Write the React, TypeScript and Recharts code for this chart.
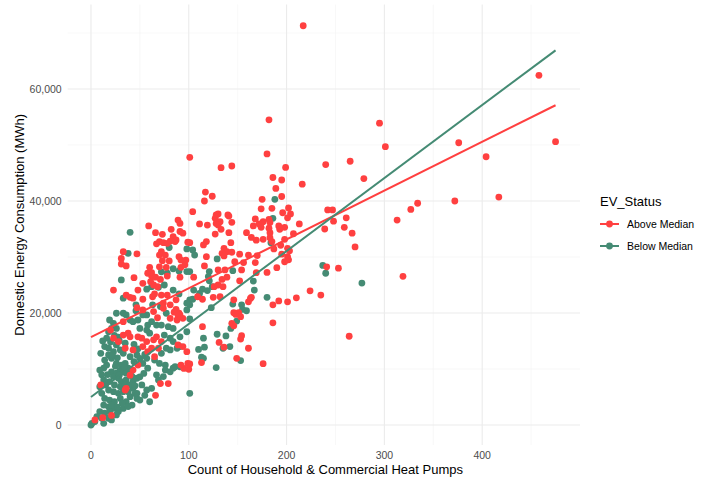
import { ScatterChart, Scatter, XAxis, YAxis, CartesianGrid, Legend } from 'recharts'

const FONT = '"Liberation Sans", Arial, Helvetica, sans-serif'
const RED = '#FF4040'
const GREEN = '#458B74'

const xTicks = [0, 100, 200, 300, 400]
const xMinor = [50, 150, 250, 350, 450]
const yTicks = [0, 20000, 40000, 60000]
const yMinor = [10000, 30000, 50000, 70000]

// [heat pumps, MWh]
const aboveMedian: [number, number][] = [
  [217, 71300], [458, 62450], [475, 50600], [404, 47900], [376, 50400], [417, 40700], [372, 40000],
  [334, 39600], [327, 38500], [313, 36600], [319, 26550], [295, 53900], [301, 49700], [279, 44000],
  [265, 47100], [240, 46500], [216, 43000], [264, 15850], [182, 54500], [180, 48400], [101, 47800],
  [133, 45950], [144, 46250], [199, 46000], [186, 44200], [195, 43750], [189, 42250], [117, 41600],
  [124, 40850], [195, 40800], [175, 40300], [116, 40000], [104, 38100], [174, 38600], [196, 37900],
  [202, 38750], [130, 37700], [128, 37500], [140, 37500], [89, 36600], [168, 36800], [182, 36700],
  [201, 37000], [242, 38400], [247, 38400], [261, 37000], [248, 36400], [183, 36150], [198, 35300],
  [213, 35900], [174, 35300], [239, 35000], [259, 35300], [267, 34250], [270, 31800], [207, 34150],
  [164, 33500], [169, 33000], [183, 33450], [194, 32100], [187, 31450], [201, 31550], [170, 30250],
  [168, 29000], [195, 30500], [198, 29150], [202, 29500], [190, 28100], [180, 27250], [241, 28250],
  [253, 28000], [224, 23950], [235, 23200], [210, 22700], [201, 22000], [192, 22150], [186, 21450],
  [164, 22800], [186, 18250], [176, 10950], [161, 13700],
  [127, 36900], [132, 36300], [128, 36000], [130, 35700], [141, 37300], [144, 36200], [111, 35900],
  [119, 35700], [133, 34950], [127, 34100], [141, 34350], [159, 34350], [143, 32550], [118, 32750],
  [115, 32150], [136, 31550], [139, 30950], [134, 30650], [136, 30200], [144, 30850], [101, 32550],
  [118, 30050], [152, 30500], [161, 30350], [147, 29150], [156, 29000], [116, 28400], [130, 27700],
  [137, 27700], [154, 27700], [169, 27200], [134, 26000], [139, 26400], [130, 25000], [135, 24700],
  [105, 26400], [126, 24700], [152, 25750], [109, 22900], [114, 22450], [125, 22800], [132, 22900],
  [146, 22350], [163, 22600], [161, 22000], [146, 20050], [151, 20050], [185, 38700], [204, 37700],
  [176, 36300], [166, 35550], [172, 35900], [182, 35150], [192, 35550], [193, 34950], [183, 34350],
  [176, 33150], [185, 32750], [198, 33150], [203, 31100], [201, 30050],
  [148, 19750], [153, 19350], [144, 18150], [146, 17700], [114, 17550], [154, 15950], [153, 15350],
  [131, 14750], [136, 13900], [149, 11900], [113, 11150], [101, 10900], [95, 10100], [100, 9950],
  [59, 35550], [91, 36000], [66, 34350], [73, 34050], [82, 34950], [84, 33650], [91, 34550],
  [94, 34250], [70, 32750], [67, 32350], [74, 32550], [78, 32450], [81, 32850], [87, 33050],
  [86, 32750], [99, 32650], [72, 30950], [70, 30350], [76, 30350], [33, 30950], [47, 30550],
  [31, 29750], [90, 30050], [92, 29450], [97, 29450], [80, 29300], [73, 29350], [70, 28250],
  [60, 28150], [58, 27100], [62, 26600], [61, 25600], [36, 28400], [77, 28150], [78, 26600],
  [92, 28150], [96, 28600], [91, 26400], [62, 27200], [66, 26400], [71, 26000], [64, 25000],
  [44, 26300], [53, 25300], [48, 24100], [23, 24100], [68, 24700], [72, 23200], [78, 23200],
  [36, 23200], [43, 22650], [40, 22800], [53, 22450], [65, 23400], [63, 22900], [87, 22350],
  [81, 21450], [74, 21750], [74, 20850], [53, 20550], [64, 20250], [87, 20650], [90, 19950],
  [31, 28750],
  [47, 20950], [33, 18450], [20, 16950], [68, 19150], [81, 19050], [88, 18750], [89, 19650],
  [85, 20150], [91, 19650], [94, 19050], [38, 16400], [33, 16050], [40, 15750], [48, 15750],
  [52, 15500], [57, 14900], [64, 15200], [67, 15750], [72, 14900], [23, 15500], [28, 14900],
  [35, 13700], [43, 13400], [53, 14000], [58, 13100], [62, 13700], [69, 13700], [94, 14000],
  [89, 14300], [98, 13100], [92, 10700], [99, 11000], [65, 12200], [71, 7400], [79, 7400],
  [66, 5300], [36, 6550], [35, 6250], [48, 10700], [43, 9800], [40, 8900], [4, 900], [12, 1300],
  [21, 1700], [10, 7150],
]

const belowMedian: [number, number][] = [
  [188, 40300], [186, 36900], [184, 32550], [166, 25700], [167, 24100], [237, 28500], [240, 27100],
  [277, 25350], [180, 22800], [104, 31250], [106, 30350], [129, 29650], [101, 27400], [121, 27400],
  [121, 25750], [145, 27550], [114, 24250], [119, 24000], [105, 24100], [101, 22350], [104, 22450],
  [123, 20950], [154, 21450], [155, 20650], [159, 20400], [145, 21600], [149, 18550], [143, 17250],
  [115, 15500], [129, 16200], [138, 15900], [135, 13700], [110, 13500], [116, 13900], [113, 12100],
  [115, 11900], [153, 11500], [128, 10250], [101, 5650], [120, 26500], [124, 24700], [111, 23500],
  [142, 14000],
  [69, 24600], [75, 25000], [33, 22650], [57, 19650], [84, 27900], [78, 27100], [72, 27350],
  [90, 27500], [98, 27400], [80, 31700], [98, 31450], [40, 34400], [38, 30650], [31, 25900],
  [57, 24250], [62, 24700], [84, 24100], [90, 23400], [101, 21450], [98, 21750], [63, 21450],
  [71, 21150], [46, 21450], [46, 20400], [26, 19950], [33, 19950], [36, 19650], [40, 18750],
  [43, 18450], [48, 18750], [23, 18150], [21, 17250], [26, 17250], [53, 19650], [62, 18450],
  [67, 17850], [77, 19950], [72, 17850], [79, 17550], [84, 17250], [98, 20550], [101, 18950],
  [98, 16650], [58, 17850], [57, 16950], [50, 17250], [60, 16400], [75, 16050], [81, 15500],
  [91, 15750], [84, 14900], [16, 15500], [14, 14000], [18, 13700], [26, 14300], [30, 13400],
  [23, 13100], [33, 12800], [40, 12200], [47, 12500], [50, 11900], [72, 12800], [77, 13700],
  [81, 13400], [88, 13700], [91, 14000], [86, 10400], [91, 10400], [65, 11600], [70, 11000],
  [76, 10700], [57, 11900], [53, 11000], [58, 10150], [50, 4450], [60, 4150], [43, 6550],
  [47, 5650], [40, 5050], [52, 7150], [57, 6250], [62, 6550], [69, 8050], [74, 8650], [67, 8950],
  [76, 9800], [81, 9500], [84, 10150], [19, 18750], [18, 16650],
  [21, 9500], [26, 9250], [30, 9800], [33, 9500], [23, 8650], [28, 8350], [31, 7750], [36, 8050],
  [19, 7750], [24, 7150], [30, 6850], [35, 7150], [18, 6250], [23, 5950], [28, 5650], [33, 5950],
  [14, 4750], [19, 4450], [24, 4150], [30, 4750], [13, 3550], [18, 3250], [23, 2950], [9, 2400],
  [14, 2100], [19, 2400], [6, 1500], [11, 1200], [4, 600], [1, 300],
  [13, 10150], [16, 10700], [14, 11600], [18, 12500], [21, 11900], [11, 8950], [13, 8050],
  [9, 6850], [15, 7150], [11, 5650], [26, 11000], [31, 10700], [35, 11000], [38, 10150],
  [36, 9250], [42, 8650], [43, 7750], [40, 7150], [47, 8350], [38, 5950], [47, 4750], [36, 4150],
  [42, 3550], [33, 2950], [28, 2400], [21, 3550], [26, 1800], [18, 1200], [21, 900],
  [0, 0], [13, 300],
  [10, 12800], [12, 15000], [20, 14800], [24, 16000], [28, 15700], [22, 12400], [27, 12000],
  [9, 9800], [17, 9000], [25, 10500], [29, 8900], [34, 10300], [44, 11300], [41, 9600],
  [45, 7000], [50, 8600], [54, 9200], [32, 3900], [27, 3200], [38, 3300], [45, 5600], [55, 5300],
  [29, 15000], [35, 14600], [44, 14400], [48, 13600], [55, 12600],
]

// linear fit lines, end points
const fitX = [0, 475]
const aboveFitY = [15700, 57100]
const belowFitY = [5000, 66900]

const toPoints = (rows: [number, number][]) => rows.map(([x, y]) => ({ x, y }))
const fitPoints = (ys: number[]) => fitX.map((x, i) => ({ x, y: ys[i] }))

const dot = (color: string) => (props: any) => (
  <circle cx={props.cx} cy={props.cy} r={3.4} fill={color} />
)
const noDot = () => <g />

const legendItems = [
  { name: 'Above Median', color: RED },
  { name: 'Below Median', color: GREEN },
]

function LegendBox() {
  return (
    <div style={{ position: 'relative', width: 107, height: 70, fontFamily: FONT, color: '#000' }}>
      <div style={{ position: 'absolute', left: 0, top: 0, fontSize: 13, lineHeight: '16px' }}>
        EV_Status
      </div>
      {legendItems.map((item, i) => (
        <div
          key={item.name}
          style={{
            position: 'absolute',
            left: 0,
            top: 22 + i * 22,
            height: 16,
            display: 'flex',
            alignItems: 'center',
          }}
        >
          <svg width={19} height={10} style={{ display: 'block' }}>
            <line x1={0} y1={5} x2={19} y2={5} stroke={item.color} strokeWidth={2} />
            <circle cx={9.5} cy={5} r={3.4} fill={item.color} />
          </svg>
          <span style={{ marginLeft: 8, fontSize: 10.5, lineHeight: '16px', whiteSpace: 'nowrap' }}>
            {item.name}
          </span>
        </div>
      ))}
    </div>
  )
}

export default function App() {
  const tickStyle = { fill: '#4D4D4D', fontSize: 10.5, fontFamily: FONT }
  return (
    <div style={{ position: 'absolute', left: 0, top: 0, background: '#fff' }}>
      <ScatterChart
        width={707}
        height={477}
        margin={{ top: 4.6, right: 127, bottom: 2, left: 7.7 }}
      >
        <CartesianGrid
          horizontalValues={yMinor}
          verticalValues={xMinor}
          stroke="#F3F3F3"
          strokeWidth={0.6}
        />
        <CartesianGrid
          horizontalValues={yTicks}
          verticalValues={xTicks}
          stroke="#EBEBEB"
          strokeWidth={1.1}
        />
        <XAxis
          type="number"
          dataKey="x"
          domain={[-23.8, 500]}
          ticks={xTicks}
          height={30}
          axisLine={false}
          tickLine={false}
          tickSize={4}
          tickMargin={2.7}
          tick={tickStyle}
          label={{
            value: 'Count of Household & Commercial Heat Pumps',
            position: 'insideBottom',
            offset: 1,
            dx: 1.5,
            fill: '#000',
            fontSize: 13,
            fontFamily: FONT,
          }}
        />
        <YAxis
          type="number"
          dataKey="y"
          domain={[-3575, 75075]}
          ticks={yTicks}
          width={60}
          axisLine={false}
          tickLine={false}
          tickSize={4}
          tickMargin={2}
          tick={tickStyle}
          tickFormatter={(v: number) => v.toLocaleString('en-US')}
          label={{
            value: 'Domestic Energy Consumption (MWh)',
            angle: -90,
            position: 'center',
            dx: -18.7,
            fill: '#000',
            fontSize: 13,
            fontFamily: FONT,
          }}
        />
        <Legend
          layout="horizontal"
          align="center"
          verticalAlign="middle"
          content={() => <LegendBox />}
          wrapperStyle={{ left: 600, top: 194, width: 107, height: 70 }}
        />
        <Scatter
          name="Below Median"
          data={toPoints(belowMedian)}
          shape={dot(GREEN)}
          isAnimationActive={false}
        />
        <Scatter
          name="Above Median"
          data={toPoints(aboveMedian)}
          shape={dot(RED)}
          isAnimationActive={false}
        />
        <Scatter
          data={fitPoints(aboveFitY)}
          line={{ stroke: RED, strokeWidth: 2 }}
          shape={noDot}
          legendType="none"
          isAnimationActive={false}
        />
        <Scatter
          data={fitPoints(belowFitY)}
          line={{ stroke: GREEN, strokeWidth: 2 }}
          shape={noDot}
          legendType="none"
          isAnimationActive={false}
        />
      </ScatterChart>
    </div>
  )
}
